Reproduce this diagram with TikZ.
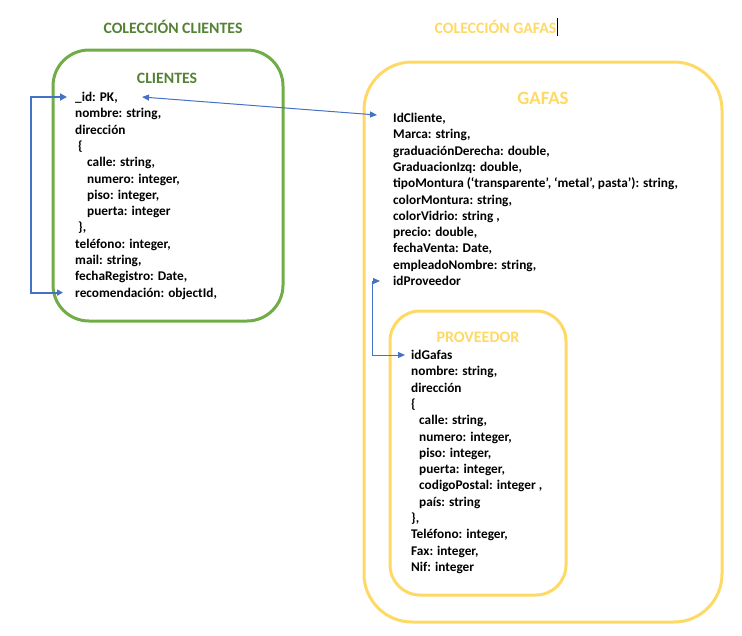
\documentclass[tikz,border=0pt]{standalone}
\usepackage{fontspec}
\setmainfont{Carlito}
\usetikzlibrary{arrows.meta,calc}
\definecolor{dgreen}{HTML}{548235}
\definecolor{lgreen}{HTML}{70AD47}
\definecolor{gold}{HTML}{FFD966}
\definecolor{oblue}{HTML}{4472C4}
\newcommand\fldfont{\fontsize{13.3}{16}\selectfont\bfseries}
\begin{document}
\begin{tikzpicture}[x=1pt,y=-1pt,
  fld/.style={anchor=base west,inner sep=0pt,font=\fldfont,text height=9pt,text depth=0pt},
  ttl/.style={inner sep=0pt,font=\fontsize{15.8}{18}\selectfont\bfseries},
  boxg/.style={draw=lgreen,line width=3pt,rounded corners=36pt},
  boxy/.style={draw=gold,line width=3pt,rounded corners=#1},
  lnk/.style={draw=oblue,line width=1pt,{Triangle[length=7pt,width=6pt]}-{Triangle[length=7pt,width=6pt]}},
  lnkb/.style={draw=oblue,line width=2pt,{Triangle[length=6pt,width=6pt]}-{Triangle[length=7pt,width=7pt]}}]
\useasboundingbox (0,0) rectangle (742,635);
% headers
\node[ttl,text=dgreen] (h1) at (173,27) {COLECCIÓN CLIENTES};
\node[ttl,text=gold] (h2) at (495.5,27) {COLECCIÓN GAFAS};
\draw[black,line width=1pt] (h2.east) ++(0.5,-9) -- ++(0,18);
% boxes
\draw[boxg] (53,50) rectangle (283,321);
\draw[boxy=48pt] (364,62) rectangle (722,622);
\draw[boxy=30pt] (390,311) rectangle (566,595);
% titles
\node[ttl,text=dgreen,font=\fontsize{15.8}{18}\selectfont\bfseries] (tc) at (167,78) {CLIENTES};
\node[ttl,text=gold,font=\fontsize{18.8}{20}\selectfont\bfseries] (tg) at (543,98) {GAFAS};
\node[ttl,text=gold,font=\fontsize{16}{18}\selectfont\bfseries] (tp) at (478,337) {PROVEEDOR};
% CLIENTES fields
\node[fld] (c1) at (75,101.5) {\_id: PK,};
\node[fld] (c2) at (75,117.8) {nombre: string,};
\node[fld] (c3) at (75,134.1) {dirección};
\node[fld] (c4) at (78,150.4) {\{};
\node[fld] (c5) at (87,166.7) {calle: string,};
\node[fld] (c6) at (87,183.0) {numero: integer,};
\node[fld] (c7) at (87,199.3) {piso: integer,};
\node[fld] (c8) at (87,215.6) {puerta: integer};
\node[fld] (c9) at (78,231.9) {\},};
\node[fld] (c10) at (75,248.2) {teléfono: integer,};
\node[fld] (c11) at (75,264.5) {mail: string,};
\node[fld] (c12) at (75,280.8) {fechaRegistro: Date,};
\node[fld] (c13) at (75,297.1) {recomendación: objectId,};
% GAFAS fields
\node[fld] (g1) at (393,122.5) {IdCliente,};
\node[fld] (g2) at (393,138.8) {Marca: string,};
\node[fld] (g3) at (393,155.1) {graduaciónDerecha: double,};
\node[fld] (g4) at (393,171.4) {GraduacionIzq: double,};
\node[fld] (g5) at (393,187.7) {tipoMontura (‘transparente’, ‘metal’, pasta’): string,};
\node[fld] (g6) at (393,204.0) {colorMontura: string,};
\node[fld] (g7) at (393,220.3) {colorVidrio: string ,};
\node[fld] (g8) at (393,236.6) {precio: double,};
\node[fld] (g9) at (393,252.9) {fechaVenta: Date,};
\node[fld] (g10) at (393,269.2) {empleadoNombre: string,};
\node[fld] (g11) at (393,285.5) {idProveedor};
% PROVEEDOR fields
\node[fld] (p1) at (411,359.5) {idGafas};
\node[fld] (p2) at (411,375.8) {nombre: string,};
\node[fld] (p3) at (411,392.1) {dirección};
\node[fld] (p4) at (411,408.4) {\{};
\node[fld] (p5) at (419,424.7) {calle: string,};
\node[fld] (p6) at (419,441.0) {numero: integer,};
\node[fld] (p7) at (419,457.3) {piso: integer,};
\node[fld] (p8) at (419,473.6) {puerta: integer,};
\node[fld] (p9) at (419,489.9) {codigoPostal: integer ,};
\node[fld] (p10) at (419,506.2) {país: string};
\node[fld] (p11) at (411,522.5) {\},};
\node[fld] (p12) at (411,538.8) {Teléfono: integer,};
\node[fld] (p13) at (411,555.1) {Fax: integer,};
\node[fld] (p14) at (411,571.4) {Nif: integer};
% connectors
\draw[lnkb] ($(c13.west)+(-12,0)$) -- ++(-32,0) |- ($(c1.west)+(-8,0)$);
\draw[lnk] ($(c1.west)+(67,0)$) -- ($(g1.west)+(-16,-3)$);
\draw[lnk] ($(g11.west)+(-13,0)$) -- ++(-8,0) |- ($(p1.west)+(-6,0)$);
\end{tikzpicture}
\end{document}
